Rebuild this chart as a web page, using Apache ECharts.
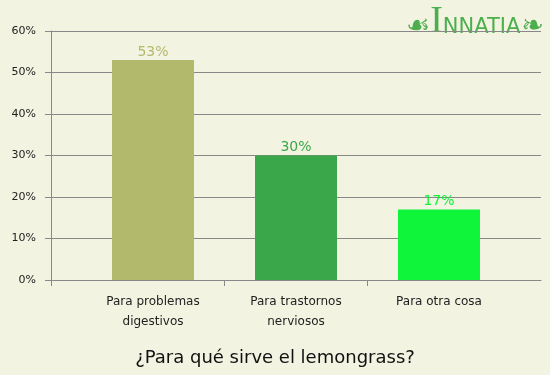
<!DOCTYPE html>
<html><head><meta charset="utf-8">
<script src="https://cdn.jsdelivr.net/npm/echarts@6/dist/echarts.min.js"></script>
<style>html,body{margin:0;padding:0;background:#F3F3E2;}#c{width:550px;height:375px;}</style>
</head><body><div id="c"></div>
<script>
const categories = ['Para problemas\ndigestivos', 'Para trastornos\nnerviosos', 'Para otra cosa'];
const values = [53, 30, 17];
const barColors = ['#B3B96C', '#3AA84A', '#0FF53A'];
const yTicks = [0, 10, 20, 30, 40, 50, 60];
const title = '¿Para qué sirve el lemongrass?';

// layout (pixels)
const W = 550, plotLeft = 51, plotRight = 541, barLeft = 81.5, barRight = 510.5;
// x-axis ticks: axis start plus the inner category boundaries
const band = (barRight - barLeft) / categories.length;
const tickVals = [0];
for (let k = 1; k < categories.length; k++) {
  tickVals.push((barLeft + k * band - plotLeft) / (plotRight - plotLeft));
}

const chart = echarts.init(document.getElementById('c'), null, {renderer: 'canvas'});
const font = 'DejaVu Sans';
chart.setOption({
  backgroundColor: '#F3F3E2',
  animation: false,
  textStyle: {fontFamily: font},
  title: {
    text: title, left: 'center', top: 344,
    textStyle: {fontFamily: font, fontSize: 18, fontWeight: 'normal', color: '#111'}
  },
  graphic: [{
    type: 'text', right: 6, top: 3,
    style: {
      text: '{o|☙}{b|I}{s|NNATIA}{o|❧}',
      rich: {
        o: {fontSize: 27, fill: '#4DAE4E', fontFamily: font, verticalAlign: 'bottom', padding: [0, 0, 1, 0]},
        b: {fontSize: 38, fill: '#4DAE4E', fontFamily: 'Liberation Serif', verticalAlign: 'bottom'},
        s: {fontSize: 21, fill: '#4DAE4E', fontFamily: 'DejaVu Sans', verticalAlign: 'bottom', padding: [0, 1, 3, 0]}
      }
    }
  }],
  grid: [
    {left: plotLeft, right: W - plotRight, top: 31, bottom: 95},
    {left: barLeft, right: W - barRight, top: 31, bottom: 95}
  ],
  xAxis: [
    {gridIndex: 0, type: 'value', min: 0, max: 1,
     axisLine: {show: true, lineStyle: {color: '#888'}},
     axisTick: {show: true, length: 6, customValues: tickVals, lineStyle: {color: '#888'}},
     axisLabel: {show: false}, splitLine: {show: false}},
    {gridIndex: 1, type: 'category', data: categories,
     axisLine: {show: false},
     axisTick: {show: false},
     axisLabel: {fontFamily: font, fontSize: 12, color: '#222', lineHeight: 20, margin: 12}}
  ],
  yAxis: [
    {gridIndex: 0, type: 'value', min: 0, max: 60, interval: 10,
     axisLine: {show: true, lineStyle: {color: '#888'}},
     axisTick: {show: true, length: 6, lineStyle: {color: '#888'}},
     splitLine: {show: true, lineStyle: {color: '#888'}},
     axisLabel: {fontFamily: font, fontSize: 11, color: '#222', margin: 15,
       customValues: yTicks, formatter: v => v + '%'}},
    {gridIndex: 1, type: 'value', min: 0, max: 60, interval: 10, show: false}
  ],
  series: [{
    type: 'bar', xAxisIndex: 1, yAxisIndex: 1,
    barWidth: 82,
    data: values.map((v, i) => ({value: v, itemStyle: {color: barColors[i]},
      label: {color: barColors[i]}})),
    label: {show: true, position: 'top', distance: 1, fontFamily: font, fontSize: 14,
      formatter: p => p.value + '%'}
  }]
});
</script></body></html>
